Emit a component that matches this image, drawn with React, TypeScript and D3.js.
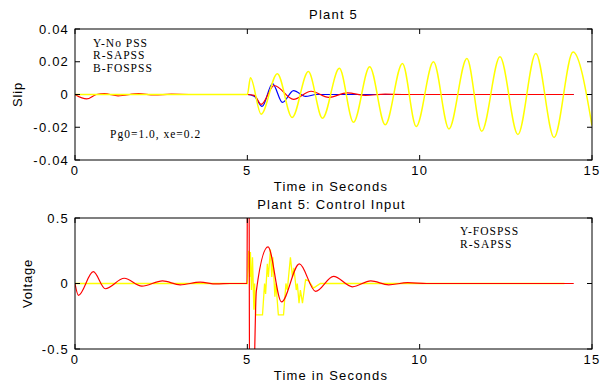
import React from "react";
import * as d3 from "d3";

// ---------- DATA ----------
const xTicks = [0, 5, 10, 15];
const xTickLabels = ["0", "5", "10", "15"];
const slipTicks = [0.04, 0.02, 0, -0.02, -0.04];
const slipTickLabels = ["0.04", "0.02", "0", "-0.02", "-0.04"];
const voltTicks = [0.5, 0, -0.5];
const voltTickLabels = ["0.5", "0", "-0.5"];

// Top plot: slip [time s, value]
const slipNoPss: [number, number][] = [
  [0, 0], [5.0, 0], [5.09, 0.0103], [5.4, -0.012], [5.87, 0.0127], [6.3, -0.014],
  [6.77, 0.014], [7.18, -0.0145], [7.67, 0.016], [8.08, -0.017], [8.55, 0.017],
  [9.0, -0.0185], [9.5, 0.019], [9.9, -0.0195], [10.4, 0.02], [10.85, -0.021],
  [11.37, 0.022], [11.8, -0.0225], [12.33, 0.023], [12.85, -0.0245], [13.37, 0.025],
  [13.9, -0.0262], [14.45, 0.026], [15.0, -0.019],
];
const slipSapss: [number, number][] = [
  [0, 0], [0.34, -0.0027], [0.62, 0], [0.85, 0.0005], [1.25, -0.0008], [1.85, 0.0005],
  [2.3, -0.0003], [2.8, 0.0002], [3.3, 0], [5.0, 0], [5.2, -0.0005], [5.4, -0.006],
  [5.78, 0.0055], [6.34, -0.003], [6.85, 0.002], [7.36, -0.0018], [7.9, 0.001],
  [8.43, -0.0005], [9.0, 0.0002], [9.5, 0], [14.47, 0],
];
const slipFospss: [number, number][] = [
  [0, 0], [5.0, 0], [5.2, -0.001], [5.43, -0.0073], [5.73, 0.0067], [6.02, -0.0048],
  [6.34, 0.0024], [6.69, -0.0012], [7.0, 0], [14.47, 0],
];

// Bottom plot: control input voltage [time s, value]
const voltSapss: [number, number][] = [
  [0, 0], [0.1, -0.09], [0.53, 0.09], [0.88, -0.04], [1.43, 0.04], [1.94, -0.02],
  [2.54, 0.02], [3.05, -0.01], [3.63, 0.01], [4.1, -0.003], [4.5, 0], [4.99, 0],
  [5.005, 0.9], [5.05, 0.9], [5.065, -0.9], [5.17, -0.9], [5.26, -0.06],
  [5.6, 0.28], [5.99, -0.14], [6.51, 0.15], [6.98, -0.06], [7.5, 0.055],
  [8.05, -0.025], [8.58, 0.02], [9.1, -0.01], [9.65, 0.006], [10.2, 0], [14.47, 0],
];
const voltFospss: [number, number][] = [
  [0, 0], [5.0, 0], [5.04, 0.25], [5.07, 0.05], [5.09, 0.24], [5.12, -0.05],
  [5.15, 0.2], [5.19, -0.2], [5.21, 0.0], [5.24, -0.24], [5.44, -0.24], [5.5, 0.0],
  [5.53, -0.08], [5.58, 0.15], [5.61, 0.05], [5.67, 0.26], [5.71, 0.05], [5.74, 0.2],
  [5.8, -0.1], [5.83, 0.0], [5.9, -0.24], [6.05, -0.24], [6.12, 0.0], [6.16, -0.05],
  [6.25, 0.2], [6.31, 0.05], [6.35, 0.12], [6.42, -0.05], [6.45, 0.0], [6.5, -0.15],
  [6.54, -0.05], [6.6, -0.15], [6.69, 0.03], [6.78, 0.02], [6.92, -0.035],
  [7.12, 0], [14.2, 0],
];

// ---------- LAYOUT ----------
const W = 605;
const H = 384;
const left = 75;
const right = 592;
const top1 = 29, bot1 = 160;
const top2 = 218, bot2 = 349;

const sansFont = "'Liberation Sans', Arial, sans-serif";
const serifFont = "'Liberation Serif', 'Times New Roman', serif";

const x = d3.scaleLinear().domain([0, 15]).range([left, right]);
const ySlip = d3.scaleLinear().domain([-0.04, 0.04]).range([bot1, top1]);
const yVolt = d3.scaleLinear().domain([-0.5, 0.5]).range([bot2, top2]);

function mkLine(y: d3.ScaleLinear<number, number>, curve: d3.CurveFactory) {
  return d3
    .line<[number, number]>()
    .x((d) => x(d[0]))
    .y((d) => y(d[1]))
    .curve(curve);
}

const TICK = 5;

function Frame({
  y,
  yTop,
  yBot,
  yTicks,
  yLabels,
  xLabelY,
}: {
  y: d3.ScaleLinear<number, number>;
  yTop: number;
  yBot: number;
  yTicks: number[];
  yLabels: string[];
  xLabelY: number;
}) {
  return (
    <g>
      <rect x={left} y={yTop} width={right - left} height={yBot - yTop} fill="none" stroke="#000" strokeWidth={1} />
      {xTicks.map((t, i) => (
        <g key={"x" + i}>
          <line x1={x(t)} x2={x(t)} y1={yBot} y2={yBot - TICK} stroke="#000" />
          <line x1={x(t)} x2={x(t)} y1={yTop} y2={yTop + TICK} stroke="#000" />
          <text
            x={x(t)}
            y={xLabelY}
            textAnchor="middle"
            fontFamily={sansFont}
            fontSize={13}
            letterSpacing={1.2}
            fill="#000"
          >
            {xTickLabels[i]}
          </text>
        </g>
      ))}
      {yTicks.map((t, i) => (
        <g key={"y" + i}>
          <line x1={left} x2={left + TICK} y1={y(t)} y2={y(t)} stroke="#000" />
          <line x1={right} x2={right - TICK} y1={y(t)} y2={y(t)} stroke="#000" />
          <text
            x={69}
            y={y(t) + 4.5}
            textAnchor="end"
            fontFamily={sansFont}
            fontSize={13}
            letterSpacing={1.2}
            fill="#000"
          >
            {yLabels[i]}
          </text>
        </g>
      ))}
    </g>
  );
}

export default function App() {
  const lSlip = mkLine(ySlip, d3.curveMonotoneX);
  const lVoltSmooth = mkLine(yVolt, d3.curveMonotoneX);
  const lVoltJag = mkLine(yVolt, d3.curveLinear);
  const midX = (left + right) / 2;

  return (
    <svg width={W} height={H} style={{ position: "absolute", left: 0, top: 0, background: "#fff" }}>
      <rect x={0} y={0} width={W} height={H} fill="#fff" />
      <defs>
        <clipPath id="clipTop">
          <rect x={left} y={top1} width={right - left} height={bot1 - top1} />
        </clipPath>
        <clipPath id="clipBot">
          <rect x={left} y={top2} width={right - left} height={bot2 - top2} />
        </clipPath>
      </defs>

      {/* ---------- TOP PLOT ---------- */}
      <text x={midX} y={19} textAnchor="middle" fontFamily={sansFont} fontSize={13} letterSpacing={1.2}>
        Plant 5
      </text>
      <g clipPath="url(#clipTop)">
        <path d={lSlip(slipFospss) || ""} fill="none" stroke="#0000ff" strokeWidth={1.2} />
        <path d={lSlip(slipSapss) || ""} fill="none" stroke="#ff0000" strokeWidth={1.2} />
        <path d={lSlip(slipNoPss) || ""} fill="none" stroke="#ffff00" strokeWidth={1.5} />
      </g>
      <Frame y={ySlip} yTop={top1} yBot={bot1} yTicks={slipTicks} yLabels={slipTickLabels} xLabelY={175} />
      <text x={331} y={191} textAnchor="middle" fontFamily={sansFont} fontSize={13} letterSpacing={1.2}>
        Time in Seconds
      </text>
      <text
        transform={`translate(22, ${(top1 + bot1) / 2}) rotate(-90)`}
        textAnchor="middle"
        fontFamily={sansFont}
        fontSize={13}
        letterSpacing={0.8}
      >
        Slip
      </text>
      <g fontFamily={serifFont} fontSize={11.5} letterSpacing={1} fill="#000">
        <text x={93} y={47}>Y-No PSS</text>
        <text x={93} y={59}>R-SAPSS</text>
        <text x={93} y={72}>B-FOSPSS</text>
        <text x={110} y={138}>Pg0=1.0, xe=0.2</text>
      </g>

      {/* ---------- BOTTOM PLOT ---------- */}
      <text x={midX - 2} y={209} textAnchor="middle" fontFamily={sansFont} fontSize={13} letterSpacing={1.2}>
        Plant 5: Control Input
      </text>
      <g clipPath="url(#clipBot)">
        <path d={lVoltJag(voltFospss) || ""} fill="none" stroke="#ffff00" strokeWidth={1.3} />
        <path d={lVoltSmooth(voltSapss) || ""} fill="none" stroke="#ff0000" strokeWidth={1.2} />
      </g>
      <Frame y={yVolt} yTop={top2} yBot={bot2} yTicks={voltTicks} yLabels={voltTickLabels} xLabelY={364} />
      <text x={331} y={380} textAnchor="middle" fontFamily={sansFont} fontSize={13} letterSpacing={1.2}>
        Time in Seconds
      </text>
      <text
        transform={`translate(32, ${(top2 + bot2) / 2}) rotate(-90)`}
        textAnchor="middle"
        fontFamily={sansFont}
        fontSize={13}
        letterSpacing={0.8}
      >
        Voltage
      </text>
      <g fontFamily={serifFont} fontSize={11.5} letterSpacing={1} fill="#000">
        <text x={460} y={235}>Y-FOSPSS</text>
        <text x={460} y={248}>R-SAPSS</text>
      </g>
    </svg>
  );
}
